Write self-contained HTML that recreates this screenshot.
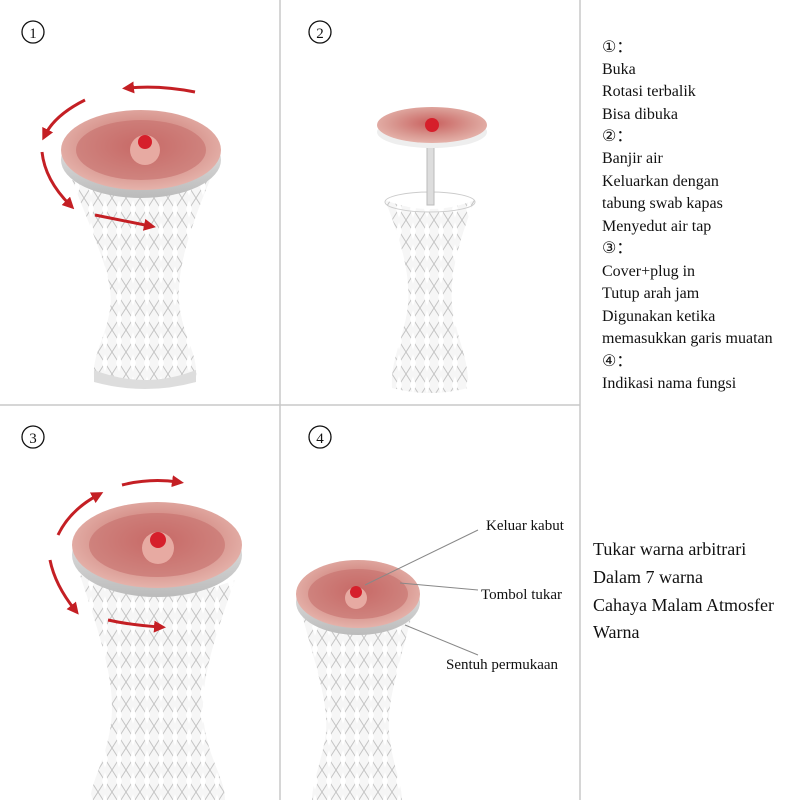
<!DOCTYPE html>
<html><head><meta charset="utf-8"><style>
body{margin:0;background:#fff}
svg{display:block}
text{font-family:"Liberation Serif",serif;fill:#111}
</style></head><body>
<svg width="800" height="800" viewBox="0 0 800 800" xmlns="http://www.w3.org/2000/svg">
<defs>
<pattern id="dia" width="14" height="22" patternUnits="userSpaceOnUse">
<rect width="14" height="22" fill="#f6f6f6"/>
<path d="M0 0L7 11L0 22M14 0L7 11L14 22" stroke="#c4c4c4" stroke-width="1" fill="none"/>
<path d="M7 2L10 11L7 20L4 11Z" fill="#fff"/>
</pattern>
<radialGradient id="lid" cx="0.5" cy="0.45" r="0.6">
<stop offset="0" stop-color="#c9605e"/><stop offset="0.6" stop-color="#d99891"/><stop offset="1" stop-color="#e8b9b1"/>
</radialGradient>
<linearGradient id="edge" x1="0" y1="0" x2="0" y2="1">
<stop offset="0" stop-color="#eee"/><stop offset="1" stop-color="#bbb"/>
</linearGradient>
<marker id="ah" viewBox="0 0 10 10" refX="5" refY="5" markerWidth="4" markerHeight="4" orient="auto"><path d="M0 0L10 5L0 10Z" fill="#c41f24"/></marker>
</defs>
<rect width="800" height="800" fill="#fff"/>
<g stroke="#c8c8c8" stroke-width="1.5">
<line x1="280" y1="0" x2="280" y2="800"/>
<line x1="580" y1="0" x2="580" y2="800"/>
<line x1="0" y1="405" x2="580" y2="405"/>
</g>

<!-- Vase 1 -->
<path d="M72 180 Q140 205 210 180 C185 240 175 280 180 310 C185 340 198 355 196 378 Q145 392 94 378 C92 355 105 340 110 310 C115 280 95 240 72 180Z" fill="url(#dia)"/>
<path d="M94 370 Q145 390 196 370 L196 382 Q145 396 94 382Z" fill="#ddd"/>
<ellipse cx="141" cy="160" rx="80" ry="38" fill="url(#edge)"/>
<ellipse cx="141" cy="150" rx="80" ry="40" fill="url(#lid)"/>
<ellipse cx="141" cy="150" rx="65" ry="30" fill="#c7706c" opacity="0.6"/>
<circle cx="145" cy="150" r="15" fill="#e7aaa2"/>
<circle cx="145" cy="142" r="7" fill="#d61f2b"/>
<g fill="none" stroke="#c41f24" stroke-width="3" marker-end="url(#ah)">
<path d="M195 92 Q160 85 128 88"/><path d="M85 100 Q55 115 45 135"/><path d="M42 152 Q45 180 70 205"/><path d="M95 215 Q120 220 150 226"/>
</g>

<!-- Vase 2 -->
<path d="M385 200 Q430 218 475 200 C455 250 450 280 452 305 C455 335 470 360 468 388 Q430 398 392 388 C390 360 405 335 408 305 C410 280 405 250 385 200Z" fill="url(#dia)"/>
<ellipse cx="430" cy="202" rx="45" ry="10" fill="none" stroke="#ccc"/>
<rect x="427" y="145" width="7" height="60" fill="#ddd" stroke="#bbb"/>
<ellipse cx="432" cy="132" rx="55" ry="16" fill="#eee"/>
<ellipse cx="432" cy="125" rx="55" ry="18" fill="url(#lid)"/>
<circle cx="432" cy="125" r="7" fill="#d61f2b"/>

<!-- Vase 3 -->
<path d="M80 575 Q160 610 235 580 C210 650 198 690 205 730 C210 760 225 780 225 800 L90 800 C92 780 105 760 110 730 C117 690 105 650 80 575Z" fill="url(#dia)"/>
<ellipse cx="157" cy="555" rx="85" ry="42" fill="url(#edge)"/>
<ellipse cx="157" cy="545" rx="85" ry="43" fill="url(#lid)"/>
<ellipse cx="157" cy="545" rx="68" ry="32" fill="#c7706c" opacity="0.6"/>
<circle cx="158" cy="548" r="16" fill="#e7aaa2"/>
<circle cx="158" cy="540" r="8" fill="#d61f2b"/>
<g fill="none" stroke="#c41f24" stroke-width="3" marker-end="url(#ah)">
<path d="M122 485 Q150 478 178 482"/><path d="M58 535 Q70 510 98 495"/><path d="M50 560 Q55 585 75 610"/><path d="M108 620 Q130 625 160 627"/>
</g>

<!-- Vase 4 -->
<path d="M302 615 Q358 642 412 615 C395 680 385 710 390 740 C393 765 402 785 402 800 L312 800 C312 785 320 765 325 740 C330 710 320 680 302 615Z" fill="url(#dia)"/>
<ellipse cx="358" cy="602" rx="62" ry="33" fill="url(#edge)"/>
<ellipse cx="358" cy="594" rx="62" ry="34" fill="url(#lid)"/>
<ellipse cx="358" cy="594" rx="50" ry="25" fill="#c7706c" opacity="0.6"/>
<circle cx="356" cy="598" r="11" fill="#e7aaa2"/>
<circle cx="356" cy="592" r="6" fill="#d61f2b"/>
<g stroke="#888" stroke-width="1">
<line x1="478" y1="530" x2="365" y2="585"/>
<line x1="478" y1="590" x2="400" y2="583"/>
<line x1="478" y1="655" x2="405" y2="625"/>
</g>
<text x="486" y="530" font-size="15">Keluar kabut</text>
<text x="481" y="599" font-size="15">Tombol tukar</text>
<text x="446" y="669" font-size="15">Sentuh permukaan</text>

<!-- numbers -->
<g fill="none" stroke="#111" stroke-width="1.3">
<circle cx="33" cy="32" r="11"/><circle cx="320" cy="32" r="11"/><circle cx="33" cy="437" r="11"/><circle cx="320" cy="437" r="11"/>
</g>
<text x="33" y="38" font-size="15" text-anchor="middle">1</text>
<text x="320" y="38" font-size="15" text-anchor="middle">2</text>
<text x="33" y="443" font-size="15" text-anchor="middle">3</text>
<text x="320" y="443" font-size="15" text-anchor="middle">4</text>

<g font-size="16">
<text x="602" y="52">①：</text>
<text x="602" y="74">Buka</text>
<text x="602" y="96">Rotasi terbalik</text>
<text x="602" y="119">Bisa dibuka</text>
<text x="602" y="141">②：</text>
<text x="602" y="163">Banjir air</text>
<text x="602" y="186">Keluarkan dengan</text>
<text x="602" y="208">tabung swab kapas</text>
<text x="602" y="231">Menyedut air tap</text>
<text x="602" y="253">③：</text>
<text x="602" y="276">Cover+plug in</text>
<text x="602" y="298">Tutup arah jam</text>
<text x="602" y="321">Digunakan ketika</text>
<text x="602" y="343">memasukkan garis muatan</text>
<text x="602" y="366">④：</text>
<text x="602" y="388">Indikasi nama fungsi</text>
</g>
<g font-size="18">
<text x="593" y="555">Tukar warna arbitrari</text>
<text x="593" y="583">Dalam 7 warna</text>
<text x="593" y="611">Cahaya Malam Atmosfer</text>
<text x="593" y="638">Warna</text>
</g>
</svg>
</body></html>
